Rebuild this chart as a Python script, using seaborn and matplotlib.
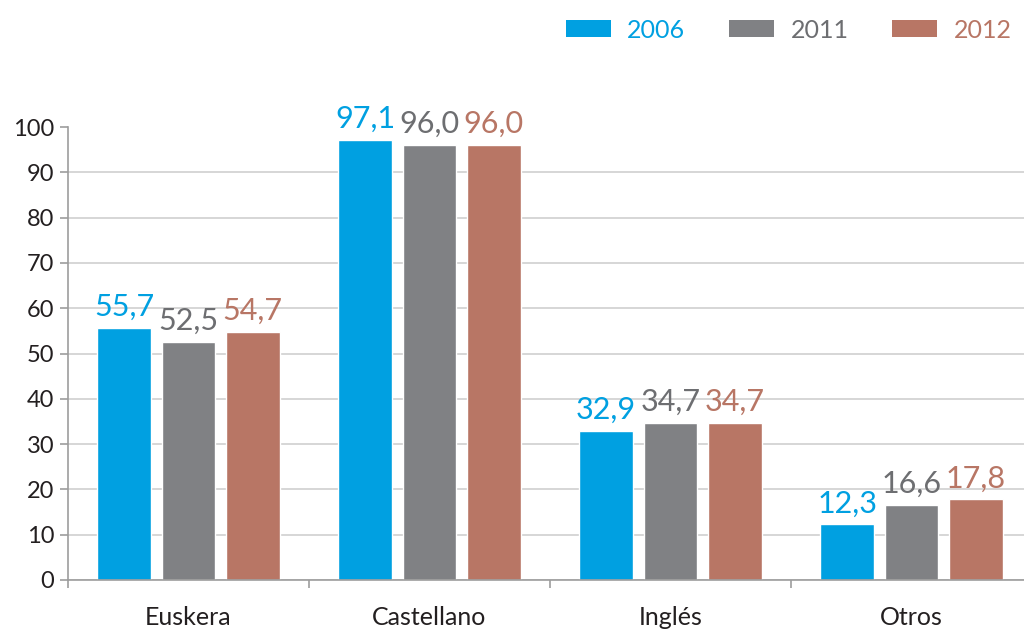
import pandas as pd
import matplotlib.pyplot as plt
import seaborn as sns
from matplotlib.patches import Patch

# data
languages = ["Euskera", "Castellano", "Inglés", "Otros"]
years = ["2006", "2011", "2012"]
v2006 = [55.7, 97.1, 32.9, 12.3]
v2011 = [52.5, 96.0, 34.7, 16.6]
v2012 = [54.7, 96.0, 34.7, 17.8]

bar_colors = ["#00a0e1", "#808184", "#b87665"]
text_colors = ["#00a0e1", "#6d6e71", "#b87665"]

df = pd.DataFrame({
    "idioma": languages * 3,
    "year": [y for y in years for _ in languages],
    "valor": v2006 + v2011 + v2012,
})

sns.set_style("white")
plt.rcParams["font.family"] = ["Lato", "DejaVu Sans"]

fig = plt.figure(figsize=(10.24, 6.33), dpi=100)
ax = fig.add_axes([68 / 1024, 53 / 633, 964 / 1024, 453 / 633])

sns.barplot(data=df, x="idioma", y="valor", hue="year", palette=bar_colors,
            width=0.8, gap=0.16, ax=ax, legend=False, saturation=1)

for cont, col in zip(ax.containers, text_colors):
    ax.bar_label(cont, labels=[f"{v:.1f}".replace(".", ",") for v in cont.datavalues],
                 color=col, fontsize=22, padding=5)

ax.set_xlim(-0.5, 3.5)
ax.set_ylim(0, 100)
ax.set_yticks(range(0, 101, 10))
ax.set_xlabel("")
ax.set_ylabel("")

# axes styling
for s in ["top", "right"]:
    ax.spines[s].set_visible(False)
for s in ["left", "bottom"]:
    ax.spines[s].set_color("#9d9d9d")
    ax.spines[s].set_linewidth(1.2)
ax.yaxis.grid(True, color="#d0d0d0", linewidth=1.2)
ax.get_ygridlines()[-1].set_visible(False)
ax.set_axisbelow(True)

ax.tick_params(axis="y", left=True, length=6, color="#9d9d9d", width=1.2,
               labelsize=17, labelcolor="#231f20", pad=4)
ax.tick_params(axis="x", bottom=False, labelsize=18, labelcolor="#231f20", pad=15)
ax.set_xticks([-0.5, 0.5, 1.5, 2.5], minor=True)
ax.tick_params(axis="x", which="minor", bottom=True, length=6, color="#9d9d9d", width=1.2)

handles = [Patch(facecolor=c, edgecolor="none") for c in bar_colors]
leg = fig.legend(handles, years, loc="upper right", bbox_to_anchor=(1.0, 1.0 - 6 / 633),
                 ncol=3, frameon=False, fontsize=18, handlelength=1.8, handleheight=0.65,
                 handletextpad=0.65, columnspacing=1.75, borderaxespad=0.1)
for t, c in zip(leg.get_texts(), text_colors):
    t.set_color(c)

fig.savefig("out.png", dpi=100)
